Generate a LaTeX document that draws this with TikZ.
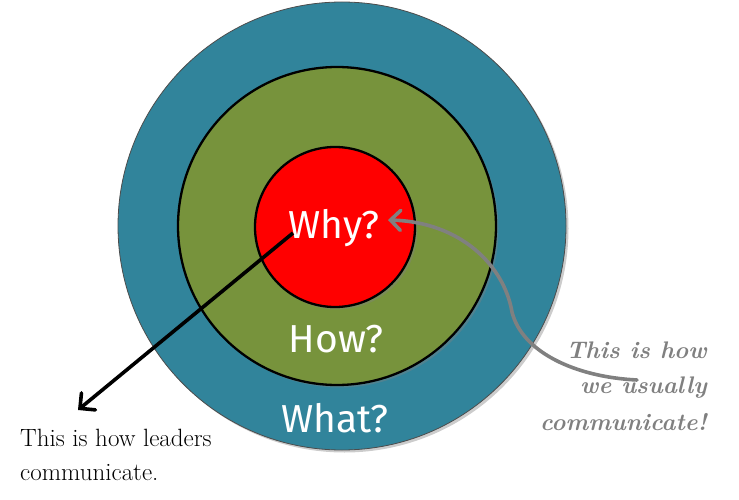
\documentclass[tikz,border=0pt]{standalone}
\usepackage{fontspec}
\setsansfont{Fira Sans}
\usetikzlibrary{arrows.meta,shadows}
\definecolor{outerblue}{HTML}{31849B}
\definecolor{midgreen}{HTML}{77933C}
\definecolor{innerred}{HTML}{FF0000}
\definecolor{notegray}{HTML}{808080}
\begin{document}
\begin{tikzpicture}[x=1pt,y=-1pt,
  ring/.style={circle, inner sep=0pt, outer sep=0pt,
    drop shadow={shadow xshift=2.5pt,shadow yshift=-2.5pt,opacity=0.4}},
  ringlabel/.style={text=white, anchor=base, font=\sffamily\fontsize{39}{44}\selectfont},
  leadtext/.style={anchor=base west, text=black, inner sep=0pt, font=\fontsize{25}{30}\selectfont},
  notetext/.style={anchor=base east, text=notegray, inner sep=0pt, font=\bfseries\itshape\fontsize{24}{28}\selectfont},
  ]
\useasboundingbox (0,0) rectangle (739,500);
\node[ring, fill=outerblue, draw=black!70, line width=0.8pt, minimum size=448pt] (whatring) at (342,226) {};
\node[ring, fill=midgreen, draw=black, line width=2.3pt, minimum size=318pt] (howring) at (337,226) {};
\node[ring, fill=innerred, draw=black, line width=2.3pt, minimum size=160pt] (whyring) at (335,227) {};
\node[ringlabel] (why) at (334,238) {Why?};
\node[ringlabel] (how) at (336,352) {How?};
\node[ringlabel] (what) at (335,432) {What?};
\node[leadtext] (lead1) at (20,446) {This is how leaders};
\node[leadtext] (lead2) at (20,480) {communicate.};
\node[notetext] (note1) at (707,358) {This is how};
\node[notetext] (note2) at (707,393) {we usually};
\node[notetext] (note3) at (707,430) {communicate!};
\coordinate (leadfrom) at (293,233);
\coordinate (leadto) at (78,410);
\coordinate (notefrom) at (637,380);
\coordinate (notebend) at (512,312);
\coordinate (noteto) at (388,220);
\draw[black, line width=3.6pt, -{Straight Barb[length=11pt,width=22pt,line cap=round]}] (leadfrom) -- (leadto);
\draw[notegray, line width=3.6pt, line cap=round, -{Straight Barb[length=10pt,width=20pt,line cap=round]}]
  (notefrom) .. controls (575,377) and (522,352) .. (notebend)
  .. controls (504,265) and (460,222) .. (noteto);
\end{tikzpicture}
\end{document}
